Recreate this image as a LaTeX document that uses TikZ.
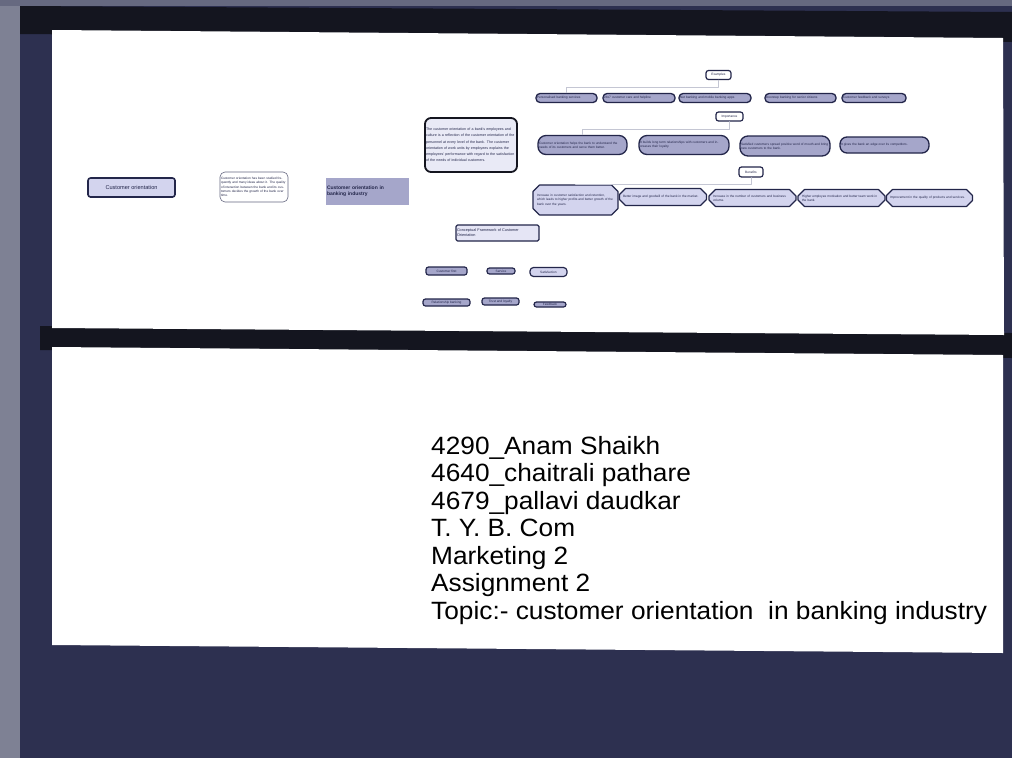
\documentclass[tikz,border=0pt]{standalone}
\usepackage{fontspec}
\setmainfont{Liberation Sans}
\usetikzlibrary{positioning,shapes.misc}
\definecolor{scannavy}{HTML}{2D3050}
\definecolor{scanedge}{HTML}{14151F}
\definecolor{scangray}{HTML}{7E8194}
\definecolor{cmlav}{HTML}{D3D4EE}
\definecolor{cmpill}{HTML}{A5A6CA}
\definecolor{cmedge}{HTML}{23264A}
\definecolor{cmline}{HTML}{C4C6D3}
\tikzset{
  every picture/.style={line cap=round, line join=round},
  tinytxt/.style={font=\fontsize{3.2}{4.2}\selectfont, text=cmedge, align=left, inner sep=1pt},
  hubbox/.style={tinytxt, draw=cmedge, line width=1.2pt, rounded corners=2.5pt, fill=white, align=center},
  pill/.style={tinytxt, draw=cmedge, line width=1.3pt, fill=cmpill, rounded corners=#1},
  pill/.default=4pt,
  hexbox/.style={tinytxt, chamfered rectangle, chamfered rectangle xsep=3pt, draw=cmedge, line width=1.2pt, fill=cmlav},
  leafbox/.style={tinytxt, draw=cmedge, line width=1.2pt, rounded corners=2.5pt, fill=cmpill, align=center},
  link/.style={cmline, line width=0.5pt},
}
\begin{document}
\begin{tikzpicture}[x=1pt, y=-1pt]
\useasboundingbox (0,0) rectangle (1012,758);
% scanned page
\fill[scannavy] (0,0) rectangle (1012,758);
\fill[scangray] (0,0) rectangle (20,758);
\fill[scangray!70!scannavy] (0,0) rectangle (1012,6);
\fill[scanedge] (20,6) -- (1012,12) -- (1012,42) -- (20,34) -- cycle;
\fill[scanedge] (40,326) -- (1012,333) -- (1012,358) -- (40,350) -- cycle;
% the two slides
\fill[white] (52,30) -- (1003,38) -- (1004,335) -- (52,328) -- cycle;
\fill[white] (52,347) -- (1003,355) -- (1003,653) -- (52,645) -- cycle;

% slide 1: concept map
\node[tinytxt, font=\fontsize{5.6}{6.5}\selectfont, draw=cmedge, line width=1.6pt, rounded corners=2.5pt, fill=cmlav,
  minimum width=87pt, minimum height=19pt] (custor) at (131.5,187.5) {Customer orientation};
\node[tinytxt, draw=cmedge!70, line width=0.6pt, rounded corners=5pt, fill=white, text width=66pt,
  minimum height=30pt] (custdef) at (254,187) {Customer orientation has been studied frequently and many ideas about it. The quality of interaction between the bank and its customers decides the growth of the bank over time.};
\node[tinytxt, font=\bfseries\fontsize{5}{6}\selectfont, fill=cmpill, text width=81pt,
  minimum height=27pt] (custbank) at (367.5,191.5) {Customer orientation in\\banking industry};
\node[tinytxt, font=\fontsize{3.6}{6.2}\selectfont, draw=scanedge, line width=1.8pt, rounded corners=6pt, fill=cmlav!50,
  text width=90pt, minimum height=54pt] (bankdef) at (471,145) {The customer orientation of a bank's employees and culture is a reflection of the customer orientation of the personnel at every level of the bank. The customer orientation of work units by employees explains the employees' performance with regard to the satisfaction of the needs of individual customers.};

% examples
\node[hubbox, minimum width=25pt, minimum height=9pt] (examples) at (718.5,75) {Examples};
\node[pill, text width=59pt, minimum height=9pt] (ex1) at (566.5,98) {Personalised banking services};
\node[pill, text width=70pt, minimum height=9pt] (ex2) at (639,98) {24x7 customer care and helpline};
\node[pill, text width=70pt, minimum height=9pt] (ex3) at (715,98) {Net banking and mobile banking apps};
\node[pill, text width=69pt, minimum height=9pt] (ex4) at (800.5,98) {Doorstep banking for senior citizens};
\node[pill, text width=62pt, minimum height=9pt] (ex5) at (874,98) {Customer feedback and surveys};
\foreach \n in {ex1,...,ex5}
  \draw[link] (examples.south) -- ++(0,7) -| (\n.north);

% importance
\node[hubbox, minimum width=27pt, minimum height=9pt] (importance) at (729.5,116.5) {Importance};
\node[pill=8pt, text width=87pt, minimum height=19pt] (im1) at (582.5,145) {Customer orientation helps the bank to understand the needs of its customers and serve them better.};
\node[pill=8pt, text width=88pt, minimum height=19pt] (im2) at (684,145) {It builds long term relationships with customers and increases their loyalty.};
\node[pill=8pt, text width=88pt, minimum height=20pt] (im3) at (785,146) {Satisfied customers spread positive word of mouth and bring new customers to the bank.};
\node[pill=7pt, text width=87pt, minimum height=16pt] (im4) at (884.5,145) {It gives the bank an edge over its competitors.};
\foreach \n in {im1,...,im4}
  \draw[link] (importance.south) -- ++(0,8) -| (\n.north);

% benefits
\node[hubbox, minimum width=24pt, minimum height=10pt] (benefits) at (751,172) {Benefits};
\node[hexbox, text width=77pt, minimum height=30pt] (bn1) at (575.5,200) {Increase in customer satisfaction and retention, which leads to higher profits and better growth of the bank over the years.};
\node[hexbox, text width=80pt, minimum height=17pt] (bn2) at (663,197) {Better image and goodwill of the bank in the market.};
\node[hexbox, text width=79pt, minimum height=17pt] (bn3) at (752.5,198) {Increase in the number of customers and business volume.};
\node[hexbox, text width=79pt, minimum height=17pt] (bn4) at (841.5,198) {Higher employee motivation and better team work in the bank.};
\node[hexbox, text width=79pt, minimum height=17pt] (bn5) at (929.5,198) {Improvement in the quality of products and services.};
\foreach \n in {bn1,...,bn5}
  \draw[link] (benefits.south) -- ++(0,7) -| (\n.north);

% conceptual framework
\node[tinytxt, font=\fontsize{3.8}{4.8}\selectfont, draw=cmedge, line width=1.2pt, rounded corners=1.5pt, fill=cmlav!60,
  text width=81pt, minimum height=16pt] (frame) at (497.5,233) {Conceptual Framework of Customer\\Orientation};
\node[leafbox, minimum width=41pt, minimum height=8pt] (fw1) at (446.5,271) {Customer first};
\node[leafbox, minimum width=28pt, minimum height=6pt] (fw2) at (501,271) {Service};
\node[leafbox, fill=cmlav, minimum width=37pt, minimum height=9pt, rounded corners=3.5pt] (fw3) at (548.5,272) {Satisfaction};
\node[leafbox, minimum width=47pt, minimum height=7pt] (fw4) at (446.5,302.5) {Relationship banking};
\node[leafbox, minimum width=37pt, minimum height=7pt] (fw5) at (500.5,301.5) {Trust and loyalty};
\node[leafbox, minimum width=32pt, minimum height=5pt] (fw6) at (550,304.5) {Feedback};

% slide 2: title text
\node[anchor=north west, inner sep=0pt, align=left, text=black, xscale=1.05, transform shape,
  font=\fontsize{25}{27.5}\selectfont] (credits) at (431,436)
  {4290\_Anam Shaikh\\4640\_chaitrali pathare\\4679\_pallavi daudkar\\T. Y. B. Com\\Marketing 2\\Assignment 2\\Topic:- customer orientation\ \ in banking industry};
\end{tikzpicture}
\end{document}
